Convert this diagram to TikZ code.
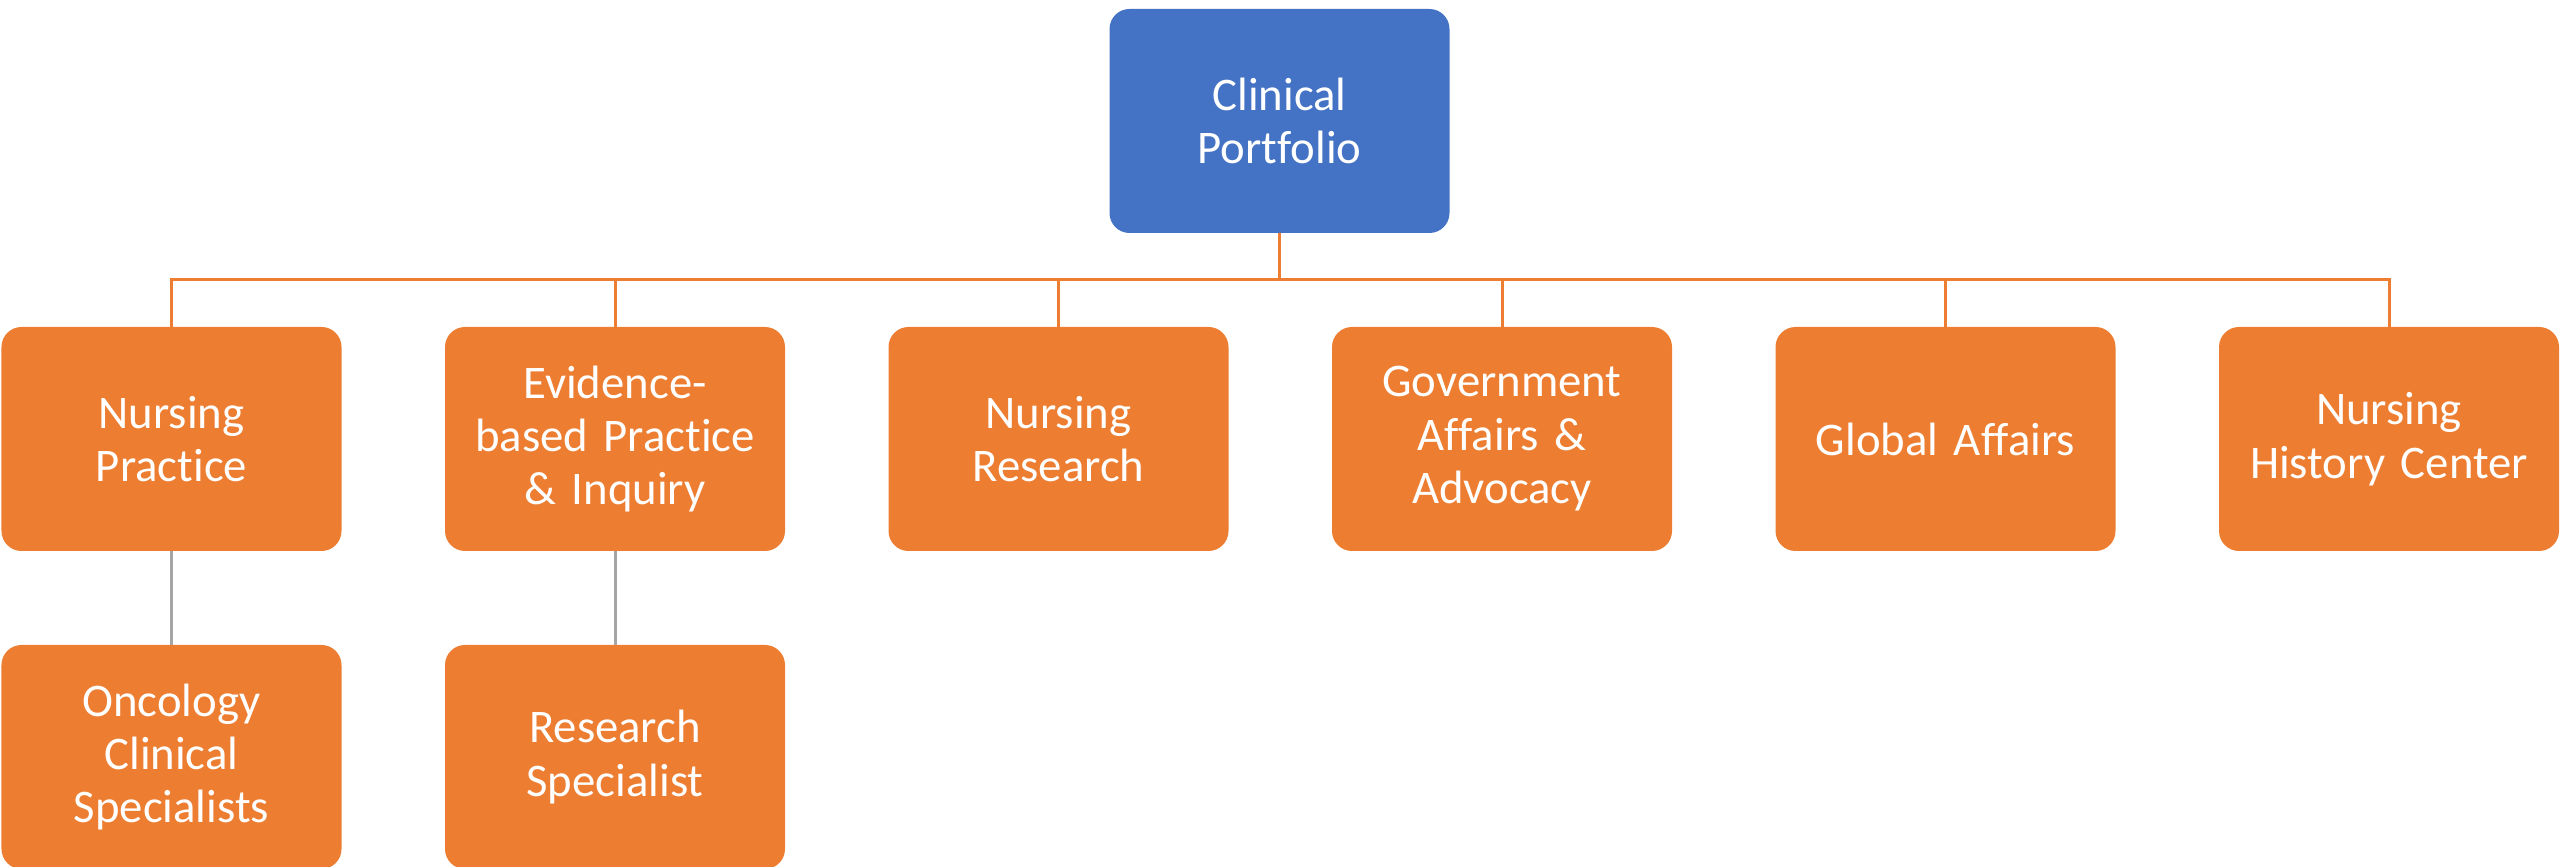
\documentclass[tikz,border=0pt]{standalone}
\usepackage{fontspec}
\setmainfont{Carlito}[Ligatures=NoCommon]
\usepackage{tikz}
\usetikzlibrary{positioning}
\definecolor{boxblue}{HTML}{4472C4}
\definecolor{boxorange}{HTML}{ED7D31}
\definecolor{linegray}{HTML}{A5A5A5}
\tikzset{
  unit/.style={rectangle,rounded corners=0.2cm,minimum width=3.4cm,minimum height=2.24cm,
    text width=3.2cm,align=center,text=white,outer sep=0pt,inner sep=0pt,
    font=\fontsize{13.3pt}{15.2pt}\selectfont},
  headunit/.style={unit,fill=boxblue},
  subunit/.style={unit,fill=boxorange},
  orgline/.style={draw=boxorange,line width=0.85pt},
  subline/.style={draw=linegray,line width=0.85pt}
}

\begin{document}
\begin{tikzpicture}
    \useasboundingbox (0,0) rectangle (25.6,-8.67);
    \begin{scope}
    \clip (0,0) rectangle (25.6,-8.67);

    \node[headunit] (portfolio) at (12.795,-1.21) {Clinical\\Portfolio};

    % Departments under the portfolio
    \node[subunit] (practice) at (1.715,-4.39) {Nursing\\Practice};
    \node[subunit] (evidence) [right=1.035cm of practice] {Evidence-\\based Practice\\\& Inquiry};
    \node[subunit] (research) [right=1.035cm of evidence] {Nursing\\Research};
    \node[subunit] (government) [right=1.035cm of research] {Government\\Affairs \&\\Advocacy};
    \node[subunit] (global) [right=1.035cm of government] {Global Affairs};
    \node[subunit] (history) [right=1.035cm of global] {Nursing\\History Center};

    % Specialists
    \node[subunit] (oncology) [below=0.94cm of practice] {Oncology\\Clinical\\Specialists};
    \node[subunit] (specialist) [below=0.94cm of evidence] {Research\\Specialist};

    \coordinate (bus) at (0,-2.80);
    \foreach \dept in {practice,evidence,research,government,global,history}
        \draw[orgline] (portfolio.south) |- (\dept.north |- bus) -- (\dept.north);

    \draw[subline] (practice.south) -- (oncology.north);
    \draw[subline] (evidence.south) -- (specialist.north);
    \end{scope}
\end{tikzpicture}
\end{document}
